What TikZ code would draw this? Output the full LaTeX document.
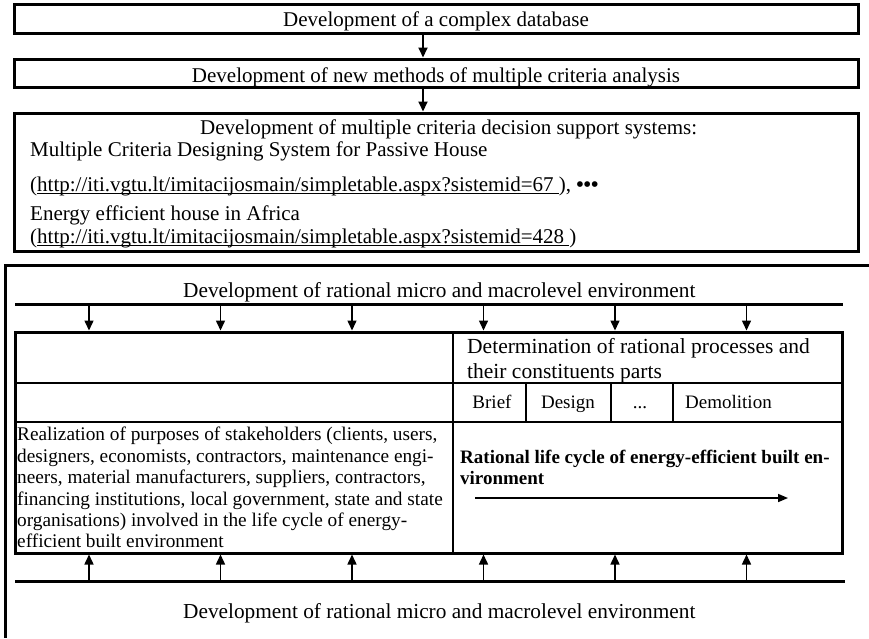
\documentclass[tikz,border=0pt]{standalone}
\usepackage{fontspec}
\setmainfont{Liberation Serif}
\usetikzlibrary{arrows.meta}
% underlined address, rule set close under the baseline
\newcommand{\linkline}[1]{\setbox0\hbox{#1}\rlap{\rule[-3pt]{\wd0}{1.1pt}}\box0}

\begin{document}
\begin{tikzpicture}[x=1pt,y=-1pt]
      \tikzstyle{box}=[draw,line width=3pt,inner sep=0pt,minimum width=844pt]
      \tikzstyle{txt}=[inner sep=0pt,anchor=base west,font=\fontsize{21}{25}\selectfont]
      \tikzstyle{note}=[inner sep=0pt,anchor=north west,align=left,font=\fontsize{19.3}{21.4}\selectfont]
      \tikzstyle{link}=[-{Triangle[length=10pt,width=9pt]},line width=1.5pt]
      \tikzstyle{rule}=[line width=3pt]
      \tikzstyle{grid}=[line width=2.5pt]
      \useasboundingbox (0,0) rectangle (869,638);
      % chain of development steps
      \node[box,minimum height=29pt] (db) at (436,18.5) {};
      \node[box,minimum height=28pt] (methods) at (436,73) {};
      \node[box,minimum height=138pt] (dss) at (436,182) {};
      \coordinate (ax) at (423,0);
      \draw[link,line width=1.8pt] (db.south -| ax) -- (methods.north -| ax);
      \draw[link,line width=1.8pt] (methods.south -| ax) -- (dss.north -| ax);
      \node[txt,anchor=base] (dbtext) at (436,26.5) {Development of a complex database};
      \node[txt,anchor=base] (methodstext) at (436,82) {Development of new methods of multiple criteria analysis};
      \node[txt] (dsstitle) at (200,134) {Development of multiple criteria decision support systems:};
      \node[txt] (passive) at (30,156) {Multiple Criteria Designing System for Passive House};
      \node[txt] (url67) at (30,191) {(\linkline{http://iti.vgtu.lt/imitacijosmain/simpletable.aspx?sistemid=67\ }), {\bfseries •••}};
      \node[txt] (africa) at (30,220) {Energy efficient house in Africa};
      \node[txt] (url428) at (30,243) {(\linkline{http://iti.vgtu.lt/imitacijosmain/simpletable.aspx?sistemid=428\ })};
      % micro and macrolevel environment
      \draw[line width=3pt] (869,265) -| (5,638);
      \node[txt,font=\fontsize{21.3}{25}\selectfont] (envtop) at (183,297) {Development of rational micro and macrolevel environment};
      \draw[rule] (15,304) coordinate (topline) -- (843,304);
      \node[draw,line width=3pt,inner sep=0pt,minimum width=827pt,minimum height=221pt] (tab) at (428.5,442.5) {};
      \draw[grid] (15,383) -- (842,383) (15,422) -- (842,422);
      \draw[grid] (453,332) -- (453,553);
      \foreach \x in {526,611,673} \draw[grid] (\x,383) -- (\x,422);
      \node[txt,anchor=north west,align=left,font=\fontsize{21.5}{25}\selectfont] (proc) at (467,338) {Determination of rational processes and\\their constituents parts};
      \node[txt,anchor=base,font=\fontsize{19}{21}\selectfont] (brief) at (492,408) {Brief};
      \node[txt,anchor=base,font=\fontsize{19}{21}\selectfont] (design) at (568,408) {Design};
      \node[txt,anchor=base,font=\fontsize{19}{21}\selectfont] (etc) at (640,408) {...};
      \node[txt,font=\fontsize{19}{21}\selectfont] (demolition) at (685,408) {Demolition};
      \node[note] (actors) at (17,427) {Realization of purposes of stakeholders (clients, users,\\designers, economists, contractors, maintenance engi-\\neers, material manufacturers, suppliers, contractors,\\financing institutions, local government, state and state\\organisations) involved in the life cycle of energy-\\efficient built environment};
      \node[note,font=\bfseries\fontsize{19}{21}\selectfont] (cycle) at (460,450) {Rational life cycle of energy-efficient built en-\\vironment};
      \coordinate (cycle0) at (475,498);
      \coordinate (cycle1) at (788,498);
      \draw[line width=1.6pt,-{Triangle[length=10pt,width=8pt]}] (cycle0) -- (cycle1);
      \draw[rule] (15,581) coordinate (botline) -- (845,581);
      \node[txt,font=\fontsize{21.3}{25}\selectfont] (envbot) at (183,618) {Development of rational micro and macrolevel environment};
      \foreach \x in {89,220.5,352,483.5,615,746.5} {
        \draw[link] (\x,0 |- topline) -- (\x,0 |- tab.north);
        \draw[link] (\x,0 |- botline) -- (\x,0 |- tab.south);
      }
\end{tikzpicture}
\end{document}
